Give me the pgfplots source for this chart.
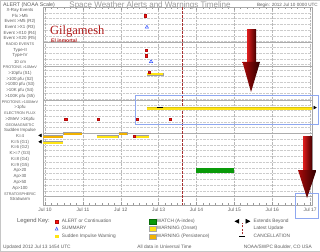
\documentclass[border=0pt]{standalone}
\usepackage{fontspec}
\setmainfont{Liberation Sans}
\newfontfamily\gilfont{Liberation Serif}
\usepackage{pgfplots}
\pgfplotsset{compat=1.18}
\definecolor{txt}{HTML}{5E5E5E}
\definecolor{ttl}{HTML}{9A9A9A}
\definecolor{onset}{HTML}{FFE414}
\definecolor{persist}{HTML}{F2B200}
\definecolor{watch}{HTML}{0A9A0A}
\definecolor{alertred}{HTML}{FF1010}
\definecolor{sumblue}{HTML}{3050FF}
\definecolor{boxblue}{HTML}{8FA8F0}
\definecolor{gilred}{HTML}{B01A1A}
\definecolor{updred}{HTML}{A83030}
\newcommand\hd{\fontsize{3.8}{4}\selectfont}
\pgfplotsset{
  barout/.style={draw=gray!75, line width=3.0pt, forget plot},
  barin/.style={line width=2.4pt, shorten <=0.45pt, shorten >=0.45pt, forget plot},
}
\begin{document}
\begin{tikzpicture}
\useasboundingbox (0pt,0pt) rectangle (320pt,-251pt);
\fill[white] (0pt,0pt) rectangle (320pt,-251pt);
\draw[gray!45, line width=0.5pt] (0.25pt,-0.25pt) rectangle (319.75pt,-250.75pt);
\begin{axis}[
  at={(43pt,-7.1pt)}, anchor=north west, scale only axis,
  width=269pt, height=197.8pt,
  xmin=-0.053, xmax=7.05, ymin=-0.5, ymax=33.95, y dir=reverse,
  clip=false,
  axis line style={gray!70, line width=0.4pt},
  xtick={0,...,7},
  xticklabels={Jul 10,Jul 11,Jul 12,Jul 13,Jul 14,Jul 15,Jul 16,Jul 17},
  minor x tick num=5,
  tick align=inside,
  major tick length=3pt, minor tick length=2.2pt,
  xtick style={gray!80, line width=0.4pt},
  xmajorgrids, major grid style={densely dotted, gray!55, line width=0.4pt},
  xticklabel style={font=\fontsize{4.9}{5}\selectfont, text=txt},
  ytick={0,...,33},
  yticklabels={{X-Ray Events},{Flx >M5},{Event >M5 (R2)},{Event >X1 (R3)},{Event >X10 (R4)},{Event >X20 (R5)},{\hd RADIO EVENTS},{Type-II},{Type-IV},{10 cm},{\hd PROTONS >10MeV},{>10pfu (S1)},{>100 pfu (S2)},{>1000 pfu (S3)},{>10K pfu (S4)},{>100K pfu (S5)},{\hd PROTONS >100MeV},{>1pfu},{\hd ELECTRON FLUX},{>2MeV >1Kpfu},{\hd GEOMAGNETIC},{Sudden Impulse},{K=4},{K=5 (G1)},{K=6 (G2)},{K>=7 (G3)},{K=8 (G4)},{K=9 (G5)},{Ap>20},{Ap>30},{Ap>50},{Ap>100},{\hd STRATOSPHERIC},{Stratwarm}},
  yticklabel style={font=\fontsize{4.4}{5}\selectfont, text=txt, anchor=center, xshift=-23pt},
  ytick style={draw=none},
  minor ytick={0.5,1.5,...,32.5},
  yminorgrids, minor grid style={densely dotted, gray!40, line width=0.4pt},
  extra y ticks={5.7,9.88,15.8,21.48,32.4},
  extra y tick labels={},
  extra y tick style={grid=major, major grid style={solid, gray!65, line width=0.5pt}},
  legend columns=3,
  legend cell align=left,
  legend style={at={(axis description cs:0.0446,-0.0677)}, anchor=north west,
    draw=none, fill=none, inner sep=0pt, outer sep=0pt, row sep=1.5pt,
    font=\fontsize{4.8}{5.5}\selectfont, text=txt,
    nodes={inner sep=0.5pt, outer sep=0pt},
    /tikz/column 1/.style={column sep=3.2pt},
    /tikz/column 2/.style={column sep=32.4pt},
    /tikz/column 3/.style={column sep=0.5pt},
    /tikz/column 4/.style={column sep=24.7pt},
    /tikz/column 5/.style={column sep=3pt}},
]
% legend images (row-major)
\addlegendimage{legend image code/.code={\filldraw[fill=alertred,draw=alertred!70!black,line width=0.3pt] (0pt,-1.4pt) rectangle (2.8pt,1.4pt);}}
\addlegendentry{ALERT or Continuation}
\addlegendimage{legend image code/.code={\filldraw[fill=watch,draw=watch!70!black,line width=0.3pt] (0pt,-2.5pt) rectangle (7pt,2.5pt);}}
\addlegendentry{WATCH (A-index)}
\addlegendimage{legend image code/.code={\fill[black] (0pt,0pt)--(4pt,2pt)--(4pt,-2pt)--cycle; \fill[black] (15pt,0pt)--(11pt,2pt)--(11pt,-2pt)--cycle;}}
\addlegendentry{Extends Beyond}
\addlegendimage{legend image code/.code={\draw[sumblue,line width=0.5pt] (0pt,-1.3pt)--(2.8pt,-1.3pt)--(1.4pt,1.5pt)--cycle;}}
\addlegendentry{SUMMARY}
\addlegendimage{legend image code/.code={\filldraw[fill=onset,draw=gray!70,line width=0.3pt] (0pt,-2.5pt) rectangle (7pt,2.5pt);}}
\addlegendentry{WARNING (Onset)}
\addlegendimage{legend image code/.code={\path (0pt,0pt) (15pt,0pt); \draw[overlay,updred,dash pattern=on 2pt off 1.5pt,line width=0.5pt] (7.5pt,-5.5pt)--(7.5pt,5.5pt);}}
\addlegendentry{Latest Update}
\addlegendimage{legend image code/.code={\fill[onset] (0pt,-1.4pt) rectangle (2.8pt,1.4pt);}}
\addlegendentry{Sudden Impulse Warning}
\addlegendimage{legend image code/.code={\filldraw[fill=persist,draw=gray!70,line width=0.3pt] (0pt,-2.5pt) rectangle (7pt,2.5pt);}}
\addlegendentry{WARNING (Persistence)}
\addlegendimage{legend image code/.code={\path (0pt,0pt) (15pt,0pt); \draw[black,line width=1pt] (4.5pt,0pt)--(10.5pt,0pt);}}
\addlegendentry{CANCELLATION}

% latest update line
\addplot[draw=updred, dash pattern=on 2.5pt off 1.5pt, line width=0.5pt, forget plot] coordinates {(3.62,-0.5) (3.62,33.95)};

% K=4 warnings
\addplot[barout] coordinates {(-0.053,22.1) (0.48,22.1)};
\addplot[barin, draw=persist] coordinates {(-0.053,22.1) (0.48,22.1)};
\addplot[barout] coordinates {(0.48,21.6) (0.98,21.6)};
\addplot[barin, draw=persist] coordinates {(0.48,21.6) (0.98,21.6)};
\addplot[barout] coordinates {(1.37,22.1) (1.95,22.1)};
\addplot[barin, draw=onset] coordinates {(1.37,22.1) (1.95,22.1)};
\addplot[barout] coordinates {(1.95,21.6) (2.19,21.6)};
\addplot[barin, draw=persist] coordinates {(1.95,21.6) (2.19,21.6)};
\addplot[barout] coordinates {(2.32,22.1) (2.75,22.1)};
\addplot[barin, draw=onset] coordinates {(2.32,22.1) (2.75,22.1)};
% K=5 warning
\addplot[barout] coordinates {(-0.053,23.15) (0.48,23.15)};
\addplot[barin, draw=onset] coordinates {(-0.053,23.15) (0.48,23.15)};
% S1 warning
\addplot[barout] coordinates {(2.69,11.2) (3.14,11.2)};
\addplot[barin, draw=onset] coordinates {(2.69,11.2) (3.14,11.2)};
% >100MeV >1pfu warning
\addplot[draw=onset!85!black, line width=2.7pt, forget plot] coordinates {(2.69,17.2) (7.05,17.2)};
\addplot[draw=onset, line width=2.1pt, forget plot] coordinates {(2.69,17.2) (7.05,17.2)};
% cancellation
\addplot[black, line width=1pt, forget plot] coordinates {(2.96,17.0) (3.12,17.0)};
% watch A-index
\addplot[draw=watch, line width=4.8pt, forget plot] coordinates {(3.99,28) (4.99,28)};

% alerts
\addplot[only marks, mark=square*, mark size=1.3pt, mark options={fill=alertred, draw=alertred!70!black, line width=0.3pt}, forget plot]
  coordinates {(2.64,1) (2.67,7) (2.67,8) (2.75,10.85) (0.55,19) (1.40,19) (2.43,19) (3.30,19) (2.35,22)};
% summaries
\addplot[only marks, mark=triangle, mark size=1.9pt, mark options={draw=sumblue, line width=0.5pt}, forget plot]
  coordinates {(2.69,3) (2.80,9)};
% extends beyond
\addplot[only marks, mark=triangle*, mark size=1.7pt, mark options={rotate=90, fill=black, draw=black}, forget plot]
  coordinates {(-0.12,21.85) (-0.12,22.95)};
\addplot[only marks, mark=triangle*, mark size=1.7pt, mark options={rotate=-90, fill=black, draw=black}, forget plot]
  coordinates {(7.12,17)};
\end{axis}

\begin{scope}[x=1pt,y=-1pt]
% titles
\node[anchor=base, text=ttl, font=\fontsize{8}{9}\selectfont, inner sep=0pt] at (150,8) {Space Weather Alerts and Warnings Timeline};
\node[anchor=base west, text=txt, font=\fontsize{5.3}{6}\selectfont, inner sep=0pt] at (3,6.5) {ALERT (NOAA Scale)};
\node[anchor=base east, text=txt, font=\fontsize{4.6}{5}\selectfont, inner sep=0pt] at (318,7) {Begin: 2012 Jul 10 0000 UTC};
% Gilgamesh
\node[anchor=base west, text=gilred, font=\gilfont\fontsize{12.5}{13}\selectfont, inner sep=0pt] at (50,35) {Gilgamesh};
\node[anchor=base west, text=gilred, font=\bfseries\fontsize{5}{6}\selectfont, inner sep=0pt] at (51,42.5) {El inmortal};
% legend title and footer
\node[anchor=base west, text=txt, font=\fontsize{5.8}{6}\selectfont, inner sep=0pt] at (17,222.5) {Legend Key:};
\node[anchor=base west, text=txt, font=\fontsize{4.8}{5}\selectfont, inner sep=0pt] at (3,248.3) {Updated 2012 Jul 13 1454 UTC};
\node[anchor=base, text=txt, font=\fontsize{4.8}{5}\selectfont, inner sep=0pt] at (164.5,248.3) {All data in Universal Time};
\node[anchor=base east, text=txt, font=\fontsize{4.8}{5}\selectfont, inner sep=0pt] at (312,248.3) {NOAA/SWPC Boulder, CO USA};
% annotation boxes
\draw[boxblue, line width=0.8pt] (135,95) rectangle (318.5,124);
\draw[boxblue, line width=0.8pt] (295,193) rectangle (318.5,218);
% big arrows
\shade[left color={rgb,255:red,225;green,30;blue,30}, middle color={rgb,255:red,170;green,0;blue,0}, right color={rgb,255:red,70;green,0;blue,0}] (247,30) rectangle (256,62.5);
\shade[left color={rgb,255:red,170;green,10;blue,10}, right color={rgb,255:red,45;green,0;blue,0}] (242.5,62) -- (260,62) -- (251,92) -- cycle;
\shade[left color={rgb,255:red,225;green,30;blue,30}, middle color={rgb,255:red,170;green,0;blue,0}, right color={rgb,255:red,70;green,0;blue,0}] (303,136) rectangle (312,170.5);
\shade[left color={rgb,255:red,170;green,10;blue,10}, right color={rgb,255:red,45;green,0;blue,0}] (298,170) -- (316.5,170) -- (307,198) -- cycle;
\end{scope}
\end{tikzpicture}
\end{document}
